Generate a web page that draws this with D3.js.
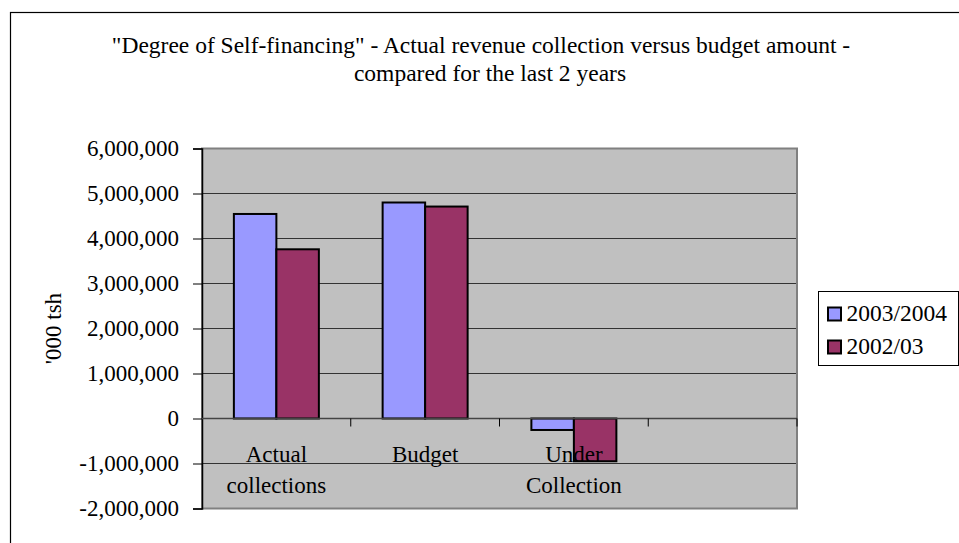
<!DOCTYPE html>
<html>
<head>
<meta charset="utf-8">
<script src="https://cdn.jsdelivr.net/npm/d3@7"></script>
</head>
<body style="margin:0">
<script>
// chart data
var categories = ["Actual collections", "Budget", "Under Collection", ""];
var catLines = [["Actual", "collections"], ["Budget"], ["Under", "Collection"], []];
var seriesNames = ["2003/2004", "2002/03"];
var values2003 = [4545000, 4800000, -255000, null];
var values2002 = [3760000, 4710000, -950000, null];
var yTicks = [-2000000, -1000000, 0, 1000000, 2000000, 3000000, 4000000, 5000000, 6000000];
var colors = ["#9999ff", "#993366"];

var FONT = "'Liberation Serif'";
var w = 959, h = 543;
var margin = {top: 148.5, right: 162, bottom: 34.5, left: 202};
var innerW = w - margin.left - margin.right,
    innerH = h - margin.top - margin.bottom;

var svg = d3.select("body").append("svg")
    .attr("width", w)
    .attr("height", h);

// chart area border
svg.append("rect")
    .attr("x", 10.5).attr("y", 12.5)
    .attr("width", 1000).attr("height", 1000)
    .style("fill", "none")
    .style("stroke", "#000")
    .style("stroke-width", 1.2);

// title
var title = svg.append("text")
    .attr("text-anchor", "middle")
    .style("font-family", FONT)
    .style("font-size", "23.5px");
title.append("tspan").attr("x", 481).attr("y", 53)
    .text("\"Degree of Self-financing\" - Actual revenue collection versus budget amount -");
title.append("tspan").attr("x", 490).attr("y", 81)
    .text("compared for the last 2 years");

var x = d3.scaleBand()
    .domain(categories)
    .range([0, innerW]);

var xs = d3.scaleBand()
    .domain(seriesNames)
    .range([0, x.bandwidth()])
    .paddingOuter(0.75);

var y = d3.scaleLinear()
    .domain([-2000000, 6000000])
    .range([innerH, 0]);

var fmt = function(d) { return d3.format(",")(d).replace("\u2212", "-"); };

var g = svg.append("g")
    .attr("transform", "translate(" + [margin.left, margin.top] + ")");

g.append("rect")
    .attr("width", innerW)
    .attr("height", innerH)
    .style("fill", "#c0c0c0");

// gridlines
g.selectAll(".grid")
    .data(yTicks)
    .enter().append("line")
    .attr("class", "grid")
    .attr("x1", 0).attr("x2", innerW)
    .attr("y1", function(d) { return y(d); })
    .attr("y2", function(d) { return y(d); })
    .style("stroke", "#333")
    .style("stroke-width", 1);

// plot border
g.append("rect")
    .attr("width", innerW)
    .attr("height", innerH)
    .style("fill", "none")
    .style("stroke", "#808080")
    .style("stroke-width", 2);

// bars
var rows = categories.map(function(c, i) {
  return {cat: c, vals: [values2003[i], values2002[i]]};
});

var cat = g.selectAll(".cat")
    .data(rows)
    .enter().append("g")
    .attr("transform", function(d) { return "translate(" + x(d.cat) + ",0)"; });

cat.selectAll("rect")
    .data(function(d) {
      return d.vals.map(function(v, j) { return {s: seriesNames[j], v: v, j: j}; })
        .filter(function(e) { return e.v != null; });
    })
    .enter().append("rect")
    .attr("x", function(d) { return xs(d.s); })
    .attr("width", xs.bandwidth())
    .attr("y", function(d) { return y(Math.max(0, d.v)); })
    .attr("height", function(d) { return Math.abs(y(d.v) - y(0)); })
    .style("fill", function(d) { return colors[d.j]; })
    .style("stroke", "#000")
    .style("stroke-width", 2);

// y axis
var yAxis = g.append("g")
    .call(d3.axisLeft(y).tickValues(yTicks).tickSize(9).tickPadding(14).tickFormat(fmt));
yAxis.select(".domain").style("stroke", "#000").style("stroke-width", 1.5);
yAxis.selectAll(".tick line").style("stroke", "#000");
yAxis.selectAll("text")
    .style("font-family", FONT)
    .style("font-size", "23px")
    .style("fill", "#000")
    .attr("dy", "0.32em");

// zero axis with category ticks
g.append("line")
    .attr("x1", 0).attr("x2", innerW)
    .attr("y1", y(0)).attr("y2", y(0))
    .style("stroke", "#444")
    .style("stroke-width", 1.5);

g.selectAll(".ctick")
    .data(categories)
    .enter().append("line")
    .attr("x1", function(d) { return x(d) + x.bandwidth(); })
    .attr("x2", function(d) { return x(d) + x.bandwidth(); })
    .attr("y1", y(0)).attr("y2", y(0) + 8)
    .style("stroke", "#000");

// category labels
var lab = g.selectAll(".clab")
    .data(categories)
    .enter().append("text")
    .attr("text-anchor", "middle")
    .style("font-family", FONT)
    .style("font-size", "23px")
    .attr("y", y(0) + 43);
lab.selectAll("tspan")
    .data(function(d, i) { return catLines[i].map(function(t) { return {t: t, c: d}; }); })
    .enter().append("tspan")
    .attr("x", function(d) { return x(d.c) + x.bandwidth() / 2; })
    .attr("dy", function(d, i) { return i ? 31 : 0; })
    .text(function(d) { return d.t; });

// y axis title
svg.append("text")
    .attr("transform", "translate(61," + (margin.top + innerH / 2) + ") rotate(-90)")
    .attr("text-anchor", "middle")
    .style("font-family", FONT)
    .style("font-size", "23px")
    .text("'000 tsh");

// legend
var legend = svg.append("g").attr("transform", "translate(818.5,291.5)");
legend.append("rect")
    .attr("width", 140).attr("height", 74)
    .style("fill", "#fff")
    .style("stroke", "#000")
    .style("stroke-width", 1);
var li = legend.selectAll(".li")
    .data(seriesNames)
    .enter().append("g")
    .attr("transform", function(d, i) { return "translate(0," + (i * 33) + ")"; });
li.append("rect")
    .attr("x", 9.5).attr("y", 16)
    .attr("width", 13).attr("height", 13)
    .style("fill", function(d, i) { return colors[i]; })
    .style("stroke", "#000")
    .style("stroke-width", 2);
li.append("text")
    .attr("x", 28).attr("y", 29)
    .style("font-family", FONT)
    .style("font-size", "23.5px")
    .text(function(d) { return d; });
</script>
</body>
</html>
